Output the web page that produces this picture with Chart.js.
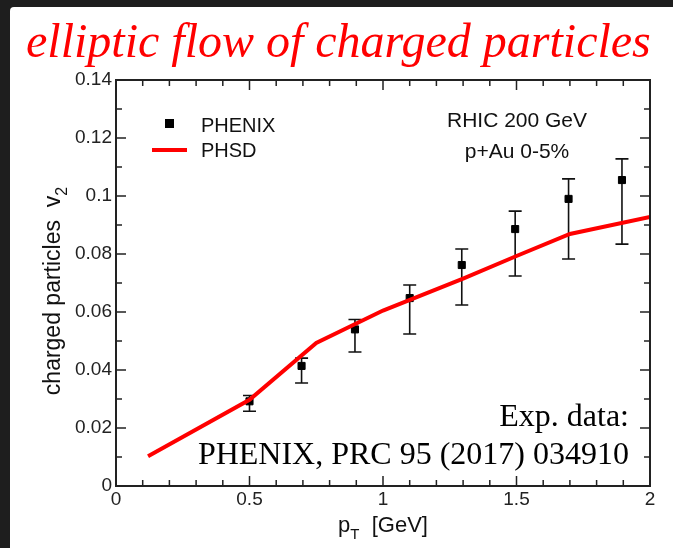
<!DOCTYPE html>
<html>
<head>
<meta charset="utf-8">
<script src="https://cdn.jsdelivr.net/npm/chart.js@4.4.1/dist/chart.umd.min.js"></script>
<style>
  html, body { margin: 0; padding: 0; background: #1e1e1e; }
  #wrap { position: relative; width: 673px; height: 548px; overflow: hidden; }
  #panel { position: absolute; left: 10px; top: 7px; right: 0; bottom: 0; background: #fff; border-top-left-radius: 4px; }
  #c { position: absolute; left: 0; top: 0; }
</style>
</head>
<body>
<div id="wrap">
  <div id="panel"></div>
  <canvas id="c" width="673" height="548"></canvas>
</div>
<script>
// PHENIX 데이터 (p+Au 0-5%)
const phenixPt   = [0.5, 0.695, 0.895, 1.1, 1.295, 1.495, 1.695, 1.895];
const phenixV2   = [0.0292, 0.0414, 0.0540, 0.0648, 0.0762, 0.0886, 0.0990, 0.1055];
const phenixLow  = [0.0258, 0.0355, 0.0462, 0.0524, 0.0624, 0.0724, 0.0783, 0.0834];
const phenixHigh = [0.0312, 0.0441, 0.0574, 0.0693, 0.0817, 0.0948, 0.1059, 0.1128];

// PHSD 계산
const phsdPt = [0.12, 0.5, 0.75, 1.0, 1.3, 1.5, 1.7, 2.0];
const phsdV2 = [0.0103, 0.0297, 0.0493, 0.0605, 0.0715, 0.0793, 0.0869, 0.0928];

const xTicks = [0, 0.5, 1, 1.5, 2];
const yTicks = [0, 0.02, 0.04, 0.06, 0.08, 0.1, 0.12, 0.14];
const xMinor = 0.1;
const yMinor = 0.01;

const AXIS_FONT = '"Liberation Sans", Arial, sans-serif';
const SERIF = '"Liberation Serif", "Times New Roman", serif';

// 아래첨자 붙은 텍스트 (가운데 정렬)
function subText(ctx, main, sub, cx, y, size) {
  ctx.font = size + 'px ' + AXIS_FONT;
  const w1 = ctx.measureText(main[0]).width;
  const w3 = ctx.measureText(main[1]).width;
  ctx.font = Math.round(size * 0.7) + 'px ' + AXIS_FONT;
  const w2 = ctx.measureText(sub).width;
  const sx = cx - (w1 + w2 + w3) / 2;
  ctx.textAlign = 'left';
  ctx.fillText(sub, sx + w1, y + size * 0.3);
  ctx.font = size + 'px ' + AXIS_FONT;
  ctx.fillText(main[0], sx, y);
  ctx.fillText(main[1], sx + w1 + w2, y);
}

// 안쪽 눈금 + 에러바 + 범례 + 주석
const decor = {
  id: 'decor',
  beforeDatasetsDraw(chart) {
    const { ctx, scales: { x, y } } = chart;
    ctx.save();
    ctx.strokeStyle = '#111';
    ctx.lineWidth = 1.6;
    phenixPt.forEach((p, i) => {
      const px = x.getPixelForValue(p);
      const lo = y.getPixelForValue(phenixLow[i]);
      const hi = y.getPixelForValue(phenixHigh[i]);
      ctx.beginPath();
      ctx.moveTo(px, lo); ctx.lineTo(px, hi);
      ctx.moveTo(px - 6.5, lo); ctx.lineTo(px + 6.5, lo);
      ctx.moveTo(px - 6.5, hi); ctx.lineTo(px + 6.5, hi);
      ctx.stroke();
    });
    ctx.restore();
  },
  afterDraw(chart) {
    const { ctx, chartArea: a, scales: { x, y } } = chart;
    ctx.save();
    // 프레임
    ctx.strokeStyle = '#222';
    ctx.lineWidth = 2;
    ctx.strokeRect(a.left, a.top, a.right - a.left, a.bottom - a.top);
    // 눈금
    ctx.lineWidth = 1.5;
    ctx.beginPath();
    const nx = Math.round((x.max - x.min) / xMinor);
    for (let k = 0; k <= nx; k++) {
      const len = k % 5 === 0 ? 10 : 6;
      const px = x.getPixelForValue(x.min + k * xMinor);
      ctx.moveTo(px, a.bottom); ctx.lineTo(px, a.bottom - len);
      ctx.moveTo(px, a.top); ctx.lineTo(px, a.top + len);
    }
    const ny = Math.round((y.max - y.min) / yMinor);
    for (let k = 0; k <= ny; k++) {
      const len = k % 2 === 0 ? 10 : 6;
      const py = y.getPixelForValue(y.min + k * yMinor);
      ctx.moveTo(a.left, py); ctx.lineTo(a.left + len, py);
      ctx.moveTo(a.right, py); ctx.lineTo(a.right - len, py);
    }
    ctx.stroke();

    // 범례
    ctx.fillStyle = '#000';
    ctx.fillRect(165, 119, 9, 9);
    ctx.strokeStyle = '#f00';
    ctx.lineWidth = 4;
    ctx.beginPath(); ctx.moveTo(152, 150); ctx.lineTo(187, 150); ctx.stroke();
    ctx.fillStyle = '#111';
    ctx.font = '20px ' + AXIS_FONT;
    ctx.textBaseline = 'alphabetic';
    ctx.textAlign = 'left';
    ctx.fillText('PHENIX', 201, 132);
    ctx.fillText('PHSD', 201, 157);
    ctx.font = '21px ' + AXIS_FONT;
    ctx.textAlign = 'center';
    ctx.fillText('RHIC 200 GeV', 517, 127);
    ctx.fillText('p+Au 0-5%', 517, 158);

    // 축 제목
    subText(ctx, ['p', '  [GeV]'], 'T', (a.left + a.right) / 2, 532, 22);
    ctx.translate(60, 291);
    ctx.rotate(-Math.PI / 2);
    subText(ctx, ['charged particles  v', ''], '2', 0, 0, 23);
    ctx.setTransform(1, 0, 0, 1, 0, 0);

    // 주석
    ctx.fillStyle = '#000';
    ctx.font = '32px ' + SERIF;
    ctx.textAlign = 'right';
    ctx.fillText('Exp. data:', 629, 426);
    ctx.fillText('PHENIX, PRC 95 (2017) 034910', 629, 464);

    // 제목
    ctx.fillStyle = '#ff0000';
    ctx.font = 'italic 48px ' + SERIF;
    ctx.textAlign = 'left';
    ctx.fillText('elliptic flow of charged particles', 26, 57);
    ctx.restore();
  }
};

new Chart(document.getElementById('c'), {
  type: 'scatter',
  data: {
    datasets: [
      {
        type: 'line',
        label: 'PHSD',
        data: phsdPt.map((p, i) => ({ x: p, y: phsdV2[i] })),
        borderColor: '#ff0000',
        borderWidth: 4,
        pointRadius: 0,
        fill: false,
        tension: 0,
        order: 0,
      },
      {
        label: 'PHENIX',
        data: phenixPt.map((p, i) => ({ x: p, y: phenixV2[i] })),
        backgroundColor: '#000',
        borderColor: '#000',
        pointStyle: 'rect',
        pointRadius: 5,
        order: 1,
      },
    ],
  },
  options: {
    responsive: false,
    animation: false,
    layout: { padding: { left: 0, top: 80, right: 23, bottom: 0 } },
    plugins: { legend: { display: false }, tooltip: { enabled: false } },
    scales: {
      x: {
        type: 'linear', min: 0, max: 2,
        afterBuildTicks: s => { s.ticks = xTicks.map(v => ({ value: v })); },
        afterFit: s => { s.height = 62; },
        grid: { display: false, drawTicks: false },
        border: { display: false },
        ticks: { color: '#222', font: { family: AXIS_FONT, size: 19 }, padding: 2,
                 maxRotation: 0, callback: v => String(v) },
      },
      y: {
        type: 'linear', min: 0, max: 0.14,
        afterBuildTicks: s => { s.ticks = yTicks.map(v => ({ value: v })); },
        afterFit: s => { s.width = 116; },
        grid: { display: false, drawTicks: false },
        border: { display: false },
        ticks: { color: '#222', font: { family: AXIS_FONT, size: 19 }, padding: 4,
                 callback: v => String(+v.toFixed(2)) },
      },
    },
  },
  plugins: [decor],
});
</script>
</body>
</html>
